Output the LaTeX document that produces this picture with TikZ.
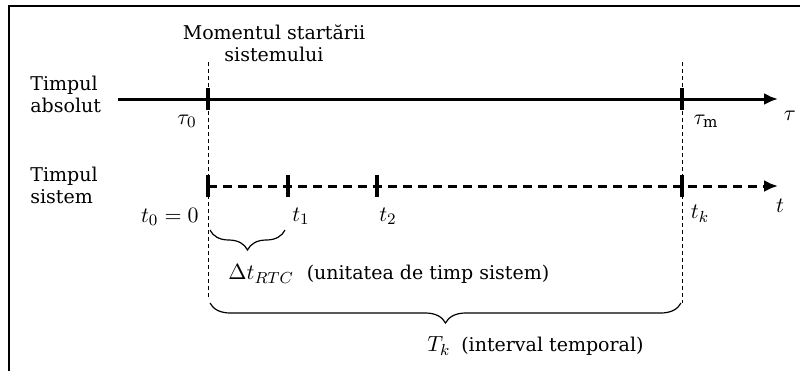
\documentclass[tikz,border=0pt]{standalone}
\usepackage{fontspec}
\setmainfont{DejaVu Serif}
\usetikzlibrary{arrows.meta,decorations.pathreplacing,positioning}

\tikzset{
  txt/.style={inner sep=0pt,font=\fontsize{9.5}{11}\selectfont},
  mathlbl/.style={inner sep=0pt,font=\fontsize{10.8}{13}\selectfont},
  axisline/.style={line width=1.5pt,-{Latex[length=7pt,width=6pt]}},
  tickmark/.style={line width=2.3pt},
  guide/.style={line width=0.4pt,dash pattern=on 2pt off 1.5pt},
  brace/.style={decorate,decoration={brace,mirror,amplitude=10pt},line width=0.6pt},
}

\begin{document}
\begin{tikzpicture}[x=0.5pt,y=-0.5pt]
\useasboundingbox (0,0) rectangle (800,371);
% frame
\draw[line width=0.6pt] (9,371)--(9,6)--(800,6);

% time axes
\coordinate (A0) at (118,99);
\coordinate (A1) at (778,99);
\coordinate (S1) at (778,186);
\coordinate (tau0) at (208,99);
\coordinate (taum) at (682,99);
\coordinate (t0) at (208,186);
\coordinate (t1) at (288,186);
\coordinate (t2) at (377,186);
\coordinate (tk) at (682,186);

\draw[axisline] (A0)--(A1);
\draw[axisline,dash pattern=on 4.5pt off 3pt] (t0)--(S1);
\foreach \p in {tau0,taum,t0,t1,t2,tk}
  \draw[tickmark] (\p)++(0,-11)--++(0,22);

% guide lines
\coordinate (g0) at (208,62);
\coordinate (g0b) at (208,300);
\coordinate (gk) at (682,62);
\coordinate (gkb) at (682,303);
\draw[guide] (g0)--(g0b);
\draw[guide] (gk)--(gkb);

% braces
\coordinate (b1s) at (210,230);
\coordinate (b1e) at (285,230);
\coordinate (b2s) at (210,303);
\coordinate (b2e) at (681,303);
\draw[brace] (b1s)--(b1e);
\draw[brace] (b2s)--(b2e);

% labels
\node[txt,align=center] (start) at (274,43) {Momentul startării\\sistemului};
\node[txt,align=left,anchor=west] (abs) at (30,94) {Timpul\\absolut};
\node[txt,align=left,anchor=west] (sys) at (30,185) {Timpul\\sistem};
\node[mathlbl] (ltau0) at (187,121) {$\tau_0$};
\node[mathlbl] (ltaum) at (706,121) {$\tau_{\mathrm{m}}$};
\node[mathlbl] (ltau) at (790,116) {$\tau$};
\node[mathlbl,anchor=east] (lt0) at (199,217) {$t_0 = 0$};
\node[mathlbl] (lt1) at (301,216) {$t_1$};
\node[mathlbl] (lt2) at (388,216) {$t_2$};
\node[mathlbl] (ltk) at (700,214) {$t_k$};
\node[mathlbl] (lt) at (780,206) {$t$};
\node[mathlbl,anchor=west] (dt) at (228,274) {$\Delta t_{RTC}$};
\node[txt,right=6pt of dt] (dtx) {(unitatea de timp sistem)};
\node[mathlbl,anchor=west] (Tk) at (427,346) {$T_k$};
\node[txt,right=5pt of Tk] (Tkx) {(interval temporal)};
\end{tikzpicture}
\end{document}
